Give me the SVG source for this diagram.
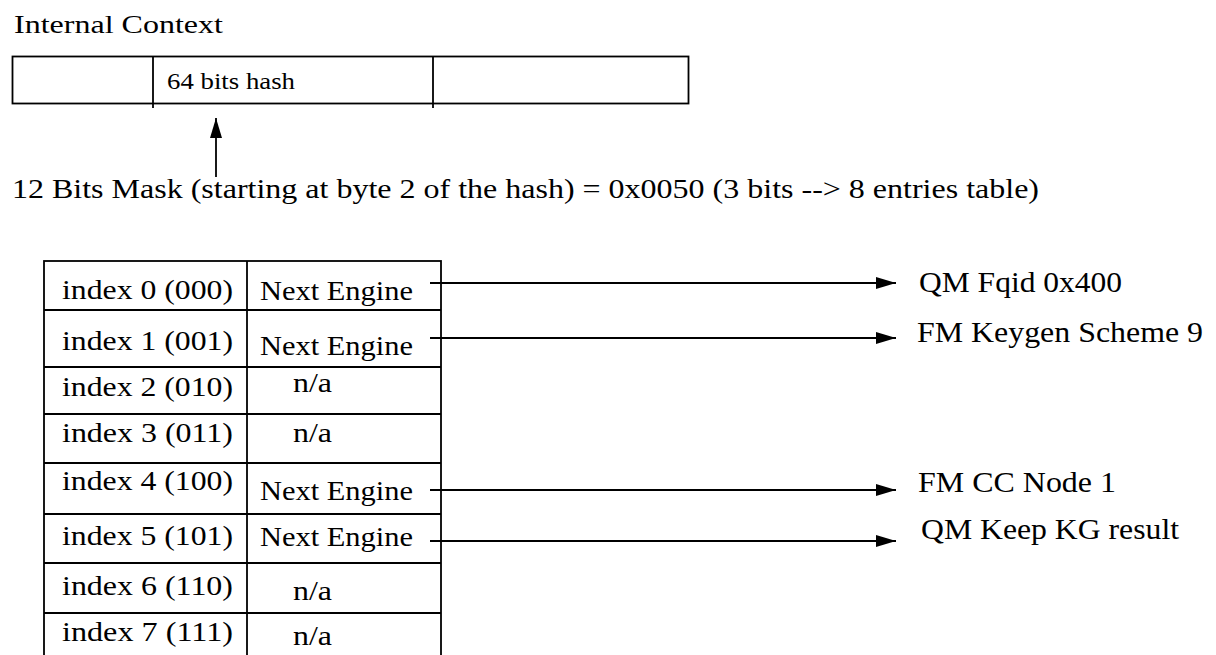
<svg xmlns="http://www.w3.org/2000/svg" width="1216" height="655" viewBox="0 0 1216 655">
<style>
text{font-family:"Liberation Serif","Times New Roman",serif;fill:#000}
.t{font-size:27px}
.h{font-size:24px}
.c{font-size:26px}
.r{font-size:29px}
.ln{stroke:#000;stroke-width:1.8;fill:none}
</style>
<defs>
<marker id="ah" markerWidth="24" markerHeight="14" refX="24" refY="7" orient="auto" markerUnits="userSpaceOnUse">
<path d="M4,1 L24,7 L4,13 Z" fill="#000"/>
</marker>
</defs>
<rect width="1216" height="655" fill="#fff"/>
<g id="context">
<text class="c" x="14" y="33" textLength="209" lengthAdjust="spacingAndGlyphs">Internal  Context</text>
<rect class="ln" x="12.5" y="56.5" width="676" height="47"/>
<line class="ln" x1="153" y1="56" x2="153" y2="108"/>
<line class="ln" x1="433" y1="56" x2="433" y2="108"/>
<text class="h" x="167" y="89" textLength="128" lengthAdjust="spacingAndGlyphs">64 bits hash</text>
</g>
<g id="mask">
<text class="t" x="12" y="198" textLength="1027" lengthAdjust="spacingAndGlyphs">12 Bits Mask (starting at byte 2 of the hash) = 0x0050 (3 bits --&gt; 8 entries table)</text>
</g>
<g id="table">
<rect class="ln" x="44" y="261" width="397" height="400"/>
<line class="ln" x1="247" y1="261" x2="247" y2="660"/>
<line class="ln" x1="44" y1="310" x2="441" y2="310"/>
<line class="ln" x1="44" y1="367" x2="441" y2="367"/>
<line class="ln" x1="44" y1="414" x2="441" y2="414"/>
<line class="ln" x1="44" y1="463" x2="441" y2="463"/>
<line class="ln" x1="44" y1="514" x2="441" y2="514"/>
<line class="ln" x1="44" y1="563" x2="441" y2="563"/>
<line class="ln" x1="44" y1="613" x2="441" y2="613"/>
<text class="t" x="62" y="299" textLength="171" lengthAdjust="spacingAndGlyphs">index 0 (000)</text>
<text class="t" x="62" y="350" textLength="171" lengthAdjust="spacingAndGlyphs">index 1 (001)</text>
<text class="t" x="62" y="396" textLength="171" lengthAdjust="spacingAndGlyphs">index 2 (010)</text>
<text class="t" x="62" y="442" textLength="171" lengthAdjust="spacingAndGlyphs">index 3 (011)</text>
<text class="t" x="62" y="490" textLength="171" lengthAdjust="spacingAndGlyphs">index 4 (100)</text>
<text class="t" x="62" y="545" textLength="171" lengthAdjust="spacingAndGlyphs">index 5 (101)</text>
<text class="t" x="62" y="595" textLength="171" lengthAdjust="spacingAndGlyphs">index 6 (110)</text>
<text class="t" x="62" y="641" textLength="171" lengthAdjust="spacingAndGlyphs">index 7 (111)</text>
<text class="t" x="260" y="300" textLength="153" lengthAdjust="spacingAndGlyphs">Next  Engine</text>
<text class="t" x="260" y="355" textLength="153" lengthAdjust="spacingAndGlyphs">Next  Engine</text>
<text class="t" x="293" y="392" textLength="39" lengthAdjust="spacingAndGlyphs">n/a</text>
<text class="t" x="293" y="442" textLength="39" lengthAdjust="spacingAndGlyphs">n/a</text>
<text class="t" x="260" y="500" textLength="153" lengthAdjust="spacingAndGlyphs">Next  Engine</text>
<text class="t" x="260" y="546" textLength="153" lengthAdjust="spacingAndGlyphs">Next  Engine</text>
<text class="t" x="293" y="600" textLength="39" lengthAdjust="spacingAndGlyphs">n/a</text>
<text class="t" x="293" y="645" textLength="39" lengthAdjust="spacingAndGlyphs">n/a</text>
</g>
<g id="targets">
<text class="r" x="919" y="292" textLength="203" lengthAdjust="spacingAndGlyphs">QM Fqid 0x400</text>
<text class="r" x="917" y="342" textLength="286" lengthAdjust="spacingAndGlyphs">FM Keygen Scheme 9</text>
<text class="r" x="918" y="492" textLength="198" lengthAdjust="spacingAndGlyphs">FM CC Node 1</text>
<text class="r" x="921" y="539" textLength="258" lengthAdjust="spacingAndGlyphs">QM Keep KG result</text>
</g>
<g id="connectors">
<line class="ln" x1="216" y1="177" x2="216" y2="118" marker-end="url(#ah)"/>
<line class="ln" x1="430" y1="283" x2="896" y2="283" marker-end="url(#ah)"/>
<line class="ln" x1="430" y1="338" x2="896" y2="338" marker-end="url(#ah)"/>
<line class="ln" x1="430" y1="490" x2="896" y2="490" marker-end="url(#ah)"/>
<line class="ln" x1="430" y1="541" x2="896" y2="541" marker-end="url(#ah)"/>
</g>
</svg>
